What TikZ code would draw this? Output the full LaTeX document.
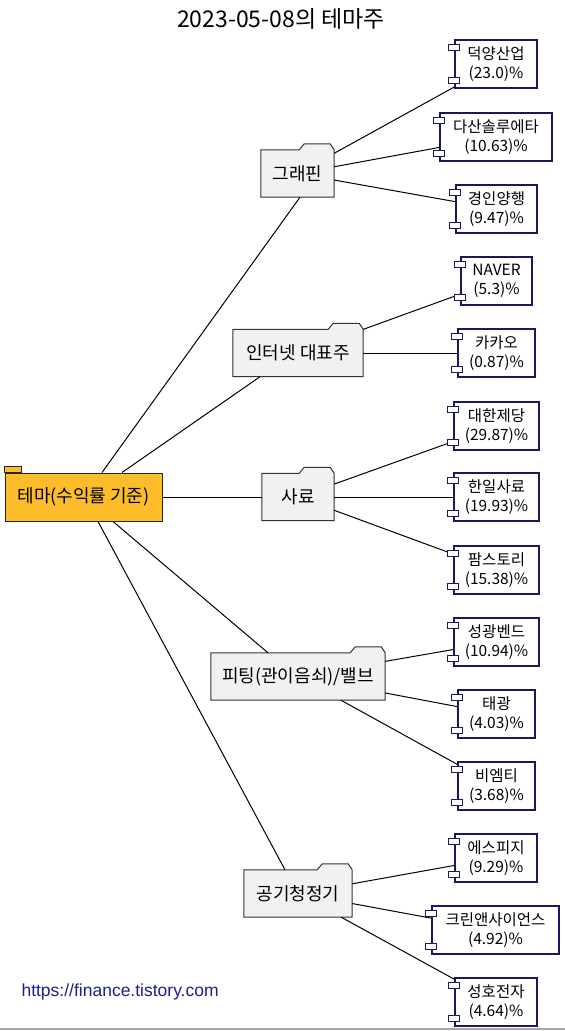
\documentclass[tikz,border=0pt]{standalone}
\usepackage{fontspec}
\setmainfont{Noto Sans CJK KR}
\newfontfamily\urlfont{Liberation Sans}
\usetikzlibrary{calc,backgrounds}
\definecolor{rootfill}{RGB}{252,189,40}
\definecolor{themefill}{RGB}{241,241,241}
\definecolor{compborder}{RGB}{24,24,96}
\definecolor{urlcol}{RGB}{30,30,140}
\newcommand\compnode[6]{\node[compbox, minimum width=#4] (#1) at (#2,#3) {#5\\#6};}
\begin{document}
\begin{tikzpicture}[x=1pt,y=-1pt,
  rootbox/.style={draw=black!85, fill=rootfill, line width=1pt, minimum height=48, inner sep=0, font=\fontsize{18}{20}\selectfont},
  themebox/.style={minimum height=47, inner sep=0, font=\fontsize{18}{20}\selectfont},
  folder/.style={draw=black!80, fill=themefill, line width=1pt},
  compbox/.style={draw=compborder, fill=white, line width=1.3pt, minimum height=48, inner sep=0, align=center, font=\fontsize{15.5}{18.5}\selectfont},
  port/.style={draw=compborder, fill=white, line width=1pt, minimum width=11, minimum height=6, inner sep=0},
  link/.style={draw=black, line width=1pt},
]
\useasboundingbox (0,0) rectangle (565,1031);

\node (title) at (281,19) {\fontsize{23}{26}\selectfont 2023-05-08의 테마주};

% root
\node[rootbox, minimum width=157] (root) at (83.5,497) {테마(수익률 기준)};
\path[fill=rootfill, draw=black!85, line width=1pt] (root.north west) rectangle ([xshift=17,yshift=6]root.north west);

% themes
\node[themebox, minimum width=73] (g) at (297.5,173.5) {그래핀};
\node[themebox, minimum width=130] (i) at (298,353) {인터넷 대표주};
\node[themebox, minimum width=72] (s) at (298,497) {사료};
\node[themebox, minimum width=174] (p) at (298,676.5) {피팅(관이음쇠)/밸브};
\node[themebox, minimum width=108] (a) at (298,893.5) {공기청정기};
\begin{scope}[on background layer]
\foreach \t in {g,i,s,p,a}{
  \path[folder] (\t.south west) -- (\t.north west) -- ([xshift=-35]\t.north east) -- ++(5,-6)
     -- ([xshift=-4,yshift=6]\t.north east) -- (\t.north east) -- (\t.south east) -- cycle;
}
\end{scope}

% components
\compnode{c1}{496}{64}{82}{덕양산업}{(23.0)\%}
\compnode{c2}{496}{137}{112}{다산솔루에타}{(10.63)\%}
\compnode{c3}{496.5}{209}{81}{경인양행}{(9.47)\%}
\compnode{c4}{496.5}{281}{71}{NAVER}{(5.3)\%}
\compnode{c5}{496.5}{353}{77}{카카오}{(0.87)\%}
\compnode{c6}{496.5}{426}{85}{대한제당}{(29.87)\%}
\compnode{c7}{496.5}{497}{85}{한일사료}{(19.93)\%}
\compnode{c8}{496.5}{570}{85}{팜스토리}{(15.38)\%}
\compnode{c9}{496.5}{642}{85}{성광벤드}{(10.94)\%}
\compnode{c10}{496.5}{714}{77}{태광}{(4.03)\%}
\compnode{c11}{496.5}{786}{77}{비엠티}{(3.68)\%}
\compnode{c12}{496}{858}{82}{에스피지}{(9.29)\%}
\compnode{c13}{495.5}{930}{127}{크린앤사이언스}{(4.92)\%}
\compnode{c14}{496}{1002}{82}{성호전자}{(4.64)\%}

% root edges
\draw[link] ([xshift=18.5]root.north) -- ([xshift=2.5]g.south);
\draw[link] ([xshift=38.5]root.north) -- ([xshift=-38]i.south);
\draw[link] (root) -- (s);
\draw[link] ([xshift=29.5]root.south) -- ([xshift=-30]p.north);
\draw[link] ([xshift=14.5]root.south) -- ([xshift=-13]a.north);

% theme edges
\foreach \t/\c in {g/c1,g/c2,g/c3,i/c4,i/c5,s/c6,s/c7,s/c8,p/c9,p/c10,p/c11,a/c12,a/c13,a/c14}{
  \draw[link] (\t) -- (\c);
}

% ports
\foreach \c in {c1,c2,c3,c4,c5,c6,c7,c8,c9,c10,c11,c12,c13,c14}{
  \node[port] (\c-pt) at ([yshift=-8]\c.north west) {};
  \node[port] (\c-pb) at ([yshift=8]\c.south west) {};
}

\node[anchor=west, text=urlcol, font=\urlfont\fontsize{17.5}{20}\selectfont] (url) at (18,992) {https://finance.tistory.com};
\draw[gray!70, line width=1.5] (0,1029) -- (565,1029);
\end{tikzpicture}
\end{document}
